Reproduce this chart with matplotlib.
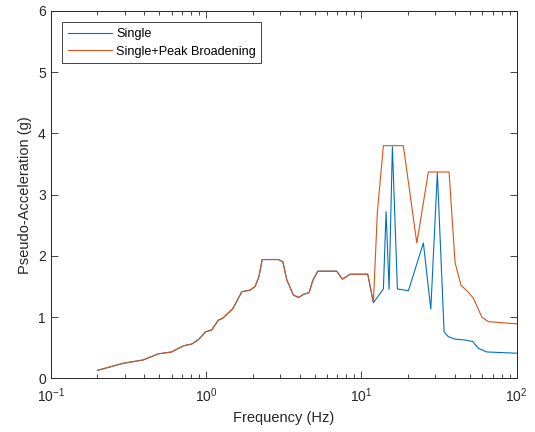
import matplotlib

matplotlib.use("Agg")

import matplotlib.pyplot as plt
import matplotlib.ticker as ticker
import numpy as np

plt.rcParams['font.family'] = ['Liberation Sans', 'DejaVu Sans']
plt.rcParams['mathtext.fontset'] = 'custom'
plt.rcParams['mathtext.rm'] = 'Liberation Sans'

# --- Data ---
# shared low-frequency part (both curves coincide)
freq_common = [0.2, 0.293, 0.394, 0.493, 0.601, 0.714, 0.809, 0.892, 0.996, 1.088,
               1.20, 1.28, 1.49, 1.70, 1.92, 2.07, 2.19, 2.30, 2.92, 3.12,
               3.31, 3.65, 3.95, 4.23, 4.61, 4.86, 5.24, 6.94, 7.55, 8.46,
               10.99, 11.95]
acc_common = [0.13, 0.245, 0.30, 0.40, 0.43, 0.53, 0.56, 0.63, 0.76, 0.79,
              0.95, 0.98, 1.14, 1.415, 1.44, 1.50, 1.66, 1.94, 1.94, 1.905,
              1.61, 1.36, 1.32, 1.37, 1.40, 1.595, 1.75, 1.75, 1.62, 1.70,
              1.70, 1.235]

# "Single" high-frequency part
freq_single_hi = [13.86, 14.42, 15.08, 15.84, 17.06, 20.08, 25.07, 27.99, 30.85,
                  34.08, 36.3, 40.1, 46.5, 52.1, 56.6, 64.2, 100.0]
acc_single_hi = [1.46, 2.72, 1.455, 3.78, 1.46, 1.43, 2.21, 1.13, 3.36,
                 0.76, 0.68, 0.64, 0.625, 0.60, 0.49, 0.43, 0.41]

# "Single+Peak Broadening" high-frequency part
freq_broad_hi = [12.68, 13.86, 18.63, 22.75, 26.99, 36.7, 40.1, 43.8, 48.4,
                 52.6, 59.6, 65.7, 100.0]
acc_broad_hi = [2.72, 3.80, 3.80, 2.21, 3.37, 3.37, 1.89, 1.52, 1.415,
                1.31, 1.00, 0.925, 0.89]

freq_single = np.array(freq_common + freq_single_hi)
acc_single = np.array(acc_common + acc_single_hi)
freq_broad = np.array(freq_common + freq_broad_hi)
acc_broad = np.array(acc_common + acc_broad_hi)

# --- Plot ---
fig = plt.figure(figsize=(5.35, 4.32), dpi=100)
ax = fig.add_axes([50.7 / 535, 1 - 378.3 / 432, 466.0 / 535, 367.3 / 432])

ax.plot(freq_single, acc_single, color='#0072BD', linewidth=0.8, label='Single')
ax.plot(freq_broad, acc_broad, color='#D95319', linewidth=0.8,
        label='Single+Peak Broadening')

ax.set_xscale('log')
ax.set_xlim(0.1, 100)
ax.set_ylim(0, 6)
ax.yaxis.set_major_locator(ticker.MultipleLocator(1))
ax.xaxis.set_major_locator(ticker.LogLocator(base=10))
ax.xaxis.set_minor_locator(ticker.LogLocator(base=10, subs=np.arange(2, 10)))
ax.xaxis.set_minor_formatter(ticker.NullFormatter())

axis_col = '#262626'
for sp in ax.spines.values():
    sp.set_color(axis_col)
    sp.set_linewidth(0.7)
ax.tick_params(which='both', direction='in', top=True, right=True,
               colors=axis_col, labelsize=10, labelcolor=axis_col)
ax.tick_params(which='major', length=5, width=0.6)
ax.tick_params(which='minor', length=3, width=0.6)
ax.tick_params(axis='x', pad=6)

ax.set_xlabel('Frequency (Hz)', fontsize=10.5, color=axis_col)
ax.set_ylabel('Pseudo-Acceleration (g)', fontsize=10.5, color=axis_col)

leg = ax.legend(loc='upper left', fontsize=9.1, fancybox=False, framealpha=1,
                edgecolor=axis_col, bbox_to_anchor=(11.5 / 466, 1 - 11.3 / 367.3),
                borderaxespad=0, handlelength=3.5, handletextpad=0.3,
                borderpad=0.45, labelspacing=0.45)
leg.get_frame().set_linewidth(0.6)

fig.savefig('out.png', dpi=100)
